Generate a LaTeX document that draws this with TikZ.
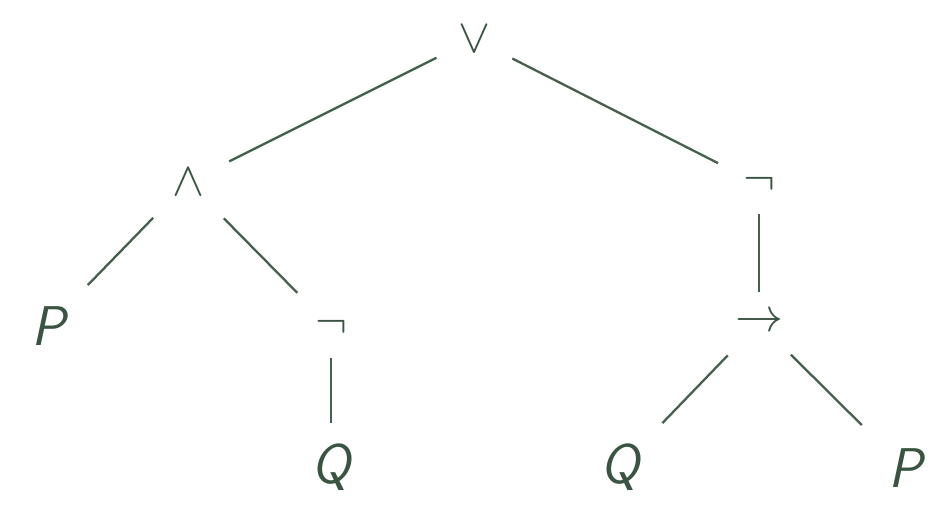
\RequirePackage{fix-cm}
\documentclass[tikz,border=0pt]{standalone}
\definecolor{ink}{RGB}{58,84,66}
\definecolor{wire}{RGB}{70,96,78}
\tikzset{
  sym/.style={inner sep=0pt, text=ink, font=\fontsize{48}{56}\selectfont},
  let/.style={inner sep=0pt, text=ink, font=\fontsize{56}{64}\selectfont\sffamily\slshape},
  branch/.style={draw=wire, line width=2.3pt},
}
\begin{document}
\begin{tikzpicture}[x=1pt,y=-1pt]
\useasboundingbox[fill=white] (0,0) rectangle (952,522);
\node[sym] (or)  at (474,39)  {$\vee$};
\node[sym] (and) at (188,182) {$\wedge$};
\node[sym] (nr)  at (759,184) {$\neg$};
\node[let] (p1)  at (48,326)  {P};
\node[sym] (nl)  at (331,327) {$\neg$};
\node[sym] (imp) at (759,323) {$\rightarrow$};
\node[let] (q1)  at (331,467) {Q};
\node[let] (q2)  at (620,467) {Q};
\node[let] (p2)  at (905,468) {P};
\draw[branch, shorten <=42pt, shorten >=46pt] (or.center) -- (and.center);
\draw[branch, shorten <=43pt, shorten >=46pt] (or.center) -- (nr.center);
\draw[branch, shorten <=50pt, shorten >=57pt] (and.center) -- (p1.center);
\draw[branch, shorten <=51pt, shorten >=48pt] (and.center) -- (nl.center);
\draw[branch, shorten <=31pt, shorten >=44pt] (nl.center) -- (q1.center);
\draw[branch, shorten <=30pt, shorten >=31pt] (nr.center) -- (imp.center);
\draw[branch, shorten <=45pt, shorten >=61pt] (imp.center) -- (q2.center);
\draw[branch, shorten <=45pt, shorten >=61pt] (imp.center) -- (p2.center);
\end{tikzpicture}
\end{document}
